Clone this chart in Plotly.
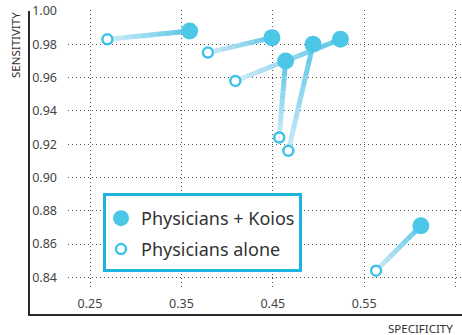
import numpy as np
import plotly.graph_objects as go

# ---- data ----
spec_alone = [0.269, 0.379, 0.409, 0.457, 0.467, 0.563]
sens_alone = [0.983, 0.975, 0.958, 0.924, 0.916, 0.844]
spec_koios = [0.359, 0.449, 0.524, 0.464, 0.494, 0.612]
sens_koios = [0.988, 0.984, 0.983, 0.970, 0.980, 0.871]

x_tick_vals = [0.25, 0.35, 0.45, 0.55, 0.65]
x_tick_text = ["0.25", "0.35", "0.45", "0.55", "0.65"]
y_tick_vals = [0.84, 0.86, 0.88, 0.90, 0.92, 0.94, 0.96, 0.98, 1.00]
y_tick_text = ["0.84", "0.86", "0.88", "0.90", "0.92", "0.94", "0.96", "0.98", "1.00"]

name_koios = "Physicians + Koios"
name_alone = "Physicians alone"
x_title = "SPECIFICITY"
y_title = "SENSITIVITY"

# ---- layout geometry (pixels) ----
W, H = 462, 335
ML, MR, MT, MB = 68, 0, 10, 47
PW, PH = W - ML - MR, H - MT - MB


def px_x(p):
    return (p - ML) / PW


def px_y(p):
    return (H - MB - p) / PH


FILL = "#4cc7e8"
RING = "#3fc2e8"
LEG_BORDER = "#1cb4df"
LIGHT = np.array([205, 236, 247])
DARK = np.array([92, 198, 232])

fig = go.Figure()

# gradient connectors (pale at "alone" end, strong at "Koios" end)
N = 10
xa, ya = np.array(spec_alone), np.array(sens_alone)
xk, yk = np.array(spec_koios), np.array(sens_koios)
for k in range(N):
    t0, t1 = k / N, (k + 1) / N
    xs, ys = [], []
    for i in range(len(xa)):
        xs += [xa[i] + (xk[i] - xa[i]) * t0, xa[i] + (xk[i] - xa[i]) * t1, None]
        ys += [ya[i] + (yk[i] - ya[i]) * t0, ya[i] + (yk[i] - ya[i]) * t1, None]
    c = LIGHT + (DARK - LIGHT) * ((k + 0.5) / N)
    fig.add_trace(go.Scatter(
        x=xs, y=ys, mode="lines",
        line=dict(color="rgb(%d,%d,%d)" % tuple(c.astype(int)), width=5),
        hoverinfo="skip", showlegend=False))

fig.add_trace(go.Scatter(
    x=spec_koios, y=sens_koios, mode="markers", name=name_koios,
    legendgroup="a", legendrank=1,
    marker=dict(size=17, color=FILL, line=dict(width=0))))
fig.add_trace(go.Scatter(
    x=spec_alone, y=sens_alone, mode="markers", name=name_alone,
    legendgroup="b", legendrank=2,
    marker=dict(size=10, color="white", line=dict(width=2.5, color=RING))))

axis_common = dict(
    showline=False, zeroline=False, showgrid=True,
    gridcolor="#555555", gridwidth=1, griddash="1px,3px",
    ticks="", tickfont=dict(family="Noto Sans", size=12.5, color="#444444"),
)

fig.update_xaxes(range=[0.2259, 0.657], tickvals=x_tick_vals, ticktext=x_tick_text,
                 ticklabelstandoff=6, **axis_common)
fig.update_yaxes(range=[0.8336, 1.0006], tickvals=y_tick_vals, ticktext=y_tick_text,
                 ticklabelstandoff=10, **axis_common)

fig.update_layout(
    width=W, height=H,
    margin=dict(l=ML, r=MR, t=MT, b=MB, pad=0),
    paper_bgcolor="white", plot_bgcolor="white",
    font=dict(family="Noto Sans", color="#333333"),
    showlegend=True,
    legend=dict(
        x=px_x(101), y=px_y(200), xanchor="left", yanchor="top",
        borderwidth=0, bgcolor="rgba(0,0,0,0)",
        font=dict(family="Noto Sans", size=18, color="#333333"),
        tracegroupgap=4.5, traceorder="grouped", itemsizing="trace",
    ),
    shapes=[
        dict(type="rect", xref="paper", yref="paper", layer="above",
             x0=px_x(104.5), x1=px_x(300.5), y0=px_y(194.5), y1=px_y(270.5),
             fillcolor="white", line=dict(color=LEG_BORDER, width=3)),
        dict(type="line", xref="paper", yref="paper",
             x0=px_x(29), x1=px_x(29), y0=px_y(11), y1=px_y(316),
             line=dict(color="#2a2a2a", width=2)),
        dict(type="line", xref="paper", yref="paper",
             x0=px_x(28), x1=1.02, y0=px_y(315), y1=px_y(315),
             line=dict(color="#2a2a2a", width=2)),
    ],
    annotations=[
        dict(text=y_title, xref="paper", yref="paper", x=px_x(15), y=px_y(45),
             xanchor="center", yanchor="middle", textangle=-90, showarrow=False,
             font=dict(family="Noto Sans", size=11.5, color="#333333")),
        dict(text=x_title, xref="paper", yref="paper", x=px_x(420.5), y=px_y(328),
             xanchor="center", yanchor="middle", showarrow=False,
             font=dict(family="Noto Sans", size=11.5, color="#333333")),
    ],
)

fig.write_html("out.html", config={"displayModeBar": False},
               post_script="document.body.style.margin='0';")
